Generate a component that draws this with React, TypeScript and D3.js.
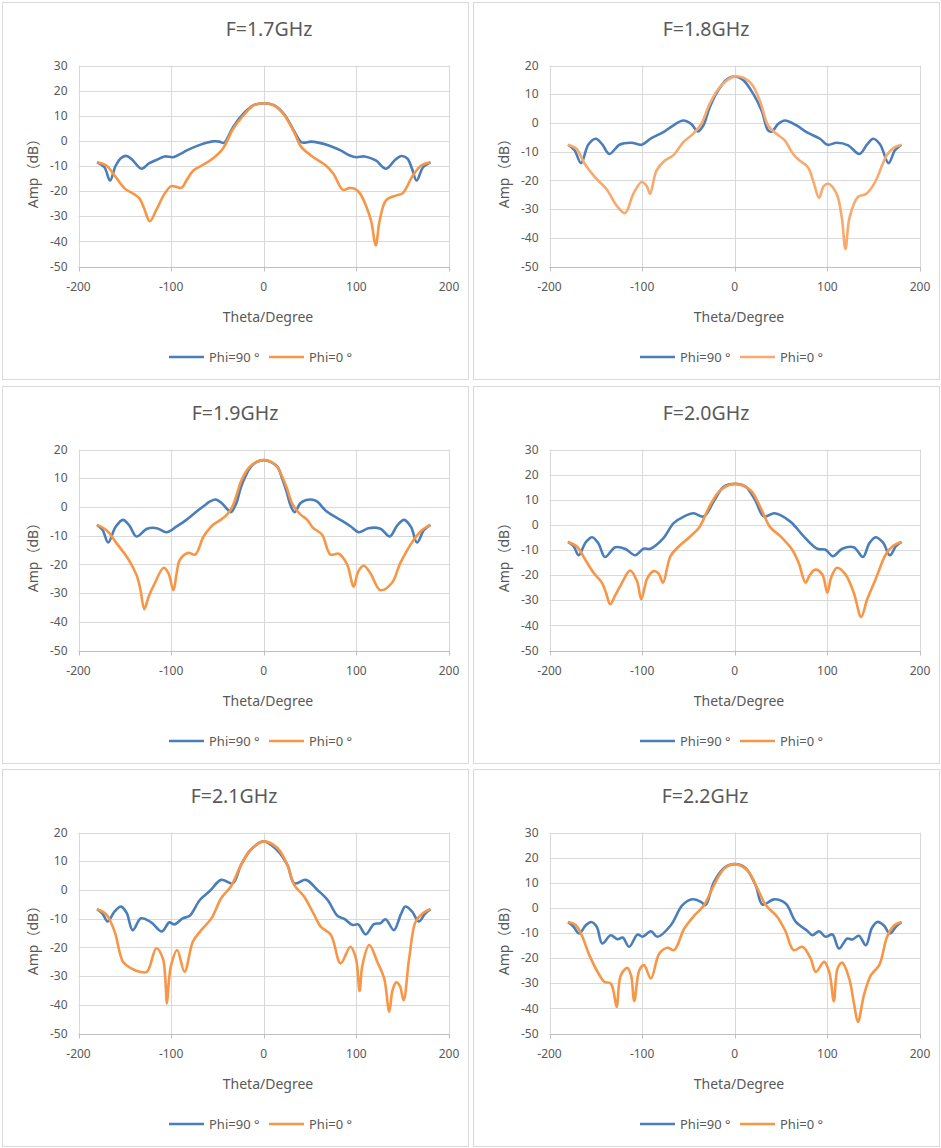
import React, { useRef, useEffect } from 'react';
import * as d3 from 'd3';

type Pt = [number, number];

// panel titles and y-axis ranges
const titles = ['F=1.7GHz', 'F=1.8GHz', 'F=1.9GHz', 'F=2.0GHz', 'F=2.1GHz', 'F=2.2GHz'];
const yMax = [30, 20, 20, 30, 20, 30];
const yMin = -50;
const xTicks = [-200, -100, 0, 100, 200];
const legendLabels = ['Phi=90 °', 'Phi=0 °'];

// theta (deg) / amplitude (dB)
const phi90_17: Pt[] = [[-180,-8.5],[-172,-10.5],[-166,-15.8],[-160,-10],[-154,-6.8],[-148,-6],[-142,-7.5],[-132,-11.1],[-124,-9],[-116,-7.6],[-107,-6.2],[-98,-6.5],[-90,-5.2],[-83,-3.8],[-69,-1.6],[-55,-0.2],[-48,-0.3],[-43,-0.8],[-38,2],[-33,5.5],[-22,10.8],[-11,14.2],[0,15],[11,14.2],[22,10.6],[33,3.8],[41,-0.6],[51,-0.3],[60,-0.8],[71,-1.9],[83,-3.8],[93,-5.8],[100,-6.5],[109,-6.2],[121,-7.8],[132,-11.1],[142,-7.5],[148.5,-6],[155,-7],[160,-11],[165,-15.8],[172,-10.5],[180,-8.5]];
const phi0_17: Pt[] = [[-180,-8.5],[-170,-9.8],[-161,-13.8],[-150,-19],[-140,-21.2],[-134,-23],[-129,-27],[-123,-32],[-116,-27.5],[-107,-21],[-100,-18],[-94,-18.3],[-89,-18.7],[-83,-15.5],[-76,-11.8],[-65,-9.4],[-55,-7],[-44,-3],[-33,4.8],[-22,10.1],[-11,14.1],[0,15],[11,14.1],[22,10.3],[33,3.3],[40,-2.2],[51,-5.8],[67,-9.8],[75,-13],[85.5,-19.5],[92,-18.8],[98,-19],[104,-21],[111,-26.4],[116,-32],[121,-41.6],[125,-32],[132,-23.7],[143,-21.7],[150,-20.8],[161,-13.8],[170,-9.8],[180,-8.5]];

const phi90_18: Pt[] = [[-180,-7.6],[-173,-9.5],[-166,-14],[-158,-7.5],[-150,-5.5],[-143,-7.5],[-135.5,-10.8],[-124,-7.5],[-111.5,-6.9],[-100.5,-7.6],[-90,-5.3],[-77,-3.2],[-66.5,-0.9],[-55.5,0.85],[-46.5,-0.5],[-40,-3],[-34,-0.9],[-27,5.5],[-18,11.3],[-9,15],[0,16.2],[9,15],[20,10.1],[29,4.3],[36,-2.6],[40,-3],[47,-0.3],[54,0.85],[67,-0.9],[77.5,-3.2],[92,-5.5],[100,-7.6],[110,-6.9],[122.5,-7.8],[134.5,-10.8],[143,-7.5],[149.5,-5.5],[157,-7.5],[166,-14],[173,-9.5],[180,-7.6]];
const phi0_18: Pt[] = [[-180,-7.6],[-171,-9],[-162,-14.2],[-151,-18.9],[-138.5,-23],[-127.5,-28.8],[-118.5,-31.4],[-109.5,-24.7],[-100.5,-20.6],[-95,-22],[-91.5,-24.7],[-84.5,-16.6],[-75.5,-13.1],[-66.5,-11.3],[-55.5,-6.7],[-45,-3.8],[-36,-0.3],[-27,6.7],[-16,12.5],[0,16.2],[16.5,14.2],[27,7.8],[36,-0.9],[45,-3.8],[54,-6.1],[63,-10.8],[70,-13.1],[79,-15.4],[84.5,-20],[91,-26.1],[96,-22],[101,-21.2],[110,-24.7],[115.5,-32.8],[119.5,-43.9],[124,-32.8],[133,-25.8],[142,-24.7],[151.5,-20.6],[164,-11.3],[172,-8.6],[180,-7.6]];

const phi90_19: Pt[] = [[-180,-6.25],[-174,-8],[-168,-12.4],[-160,-7],[-152,-4.5],[-145,-6.5],[-137.5,-10.3],[-126,-7.6],[-115.5,-7.4],[-105,-8.8],[-94,-6.8],[-83.5,-4.5],[-70.5,-1.1],[-64,0.5],[-58,1.9],[-52,2.6],[-45,1.2],[-40,-0.6],[-35.5,-1.8],[-30,1],[-25,6.5],[-20,10.5],[-15,13.5],[-8,15.6],[0,16.3],[8,15.6],[15,13.8],[20,9.8],[25,5],[29,0.5],[33.3,-1.8],[39.5,1.3],[45,2.3],[50.5,2.6],[57,2],[68,-1.6],[86,-5.1],[94,-6.8],[102.5,-8.8],[113,-7.4],[126,-7.6],[136,-10.3],[144,-6.5],[151.5,-4.5],[159,-7],[165.5,-12.4],[173,-8],[180,-6.25]];
const phi0_19: Pt[] = [[-180,-6.25],[-170,-8],[-159,-12.6],[-146,-18.3],[-137,-24],[-133,-29],[-129,-35.6],[-124,-31],[-119,-27.5],[-108,-21.2],[-103,-23],[-97.5,-29],[-94,-23],[-90.5,-18.4],[-81.5,-16],[-74,-16.6],[-65,-10.3],[-58,-7.3],[-54,-6],[-47,-4.6],[-40,-2.8],[-34,0],[-29,4.5],[-25,8.5],[-20,11.8],[-15,14],[-8,15.7],[0,16.3],[8,15.7],[15,13.8],[20,10.5],[25,6.5],[31,1],[39.5,-2.6],[47,-4.5],[53,-7.2],[63,-9.7],[72,-16.6],[81,-16.3],[90,-20],[97,-27.8],[102,-22.5],[108,-20.5],[115,-23],[126,-29],[138.5,-26.4],[147.5,-19.5],[162,-11.4],[171,-8],[180,-6.25]];

const phi90_20: Pt[] = [[-180,-6.8],[-174,-8.5],[-168.5,-12.1],[-161,-7],[-154,-4.9],[-147,-7.5],[-140,-12.8],[-129,-8.9],[-118,-9.6],[-107.5,-12.1],[-98.5,-9.5],[-91,-9.5],[-77,-5.3],[-66,0.7],[-55,3.3],[-44.5,4.6],[-33.5,3.3],[-22.5,9.5],[-12,15.1],[0,16.3],[12,15.1],[22.5,9.5],[31.5,3.3],[43,4.6],[60,1.3],[74.5,-4.6],[89,-9.5],[98,-9.9],[106,-12.5],[116,-9.5],[128.5,-8.9],[138.5,-12.8],[145,-7.5],[152,-4.9],[160,-7],[167.5,-12.1],[174,-8.5],[180,-6.8]];
const phi0_20: Pt[] = [[-180,-6.8],[-170.5,-8.6],[-161.5,-13.8],[-152.5,-19],[-143.5,-23],[-139,-27],[-134.5,-31.6],[-129,-28],[-123.5,-24.3],[-113,-18.2],[-105.5,-22.4],[-101,-29.6],[-97,-24.5],[-95,-21.7],[-87.5,-18.4],[-82,-19.5],[-77.5,-23],[-69.5,-12.5],[-60.5,-8.6],[-48,-4.6],[-38,-0.8],[-26.5,7.9],[-15.5,13.8],[0,16.3],[17,13.8],[27.5,7.2],[38,-0.8],[49.5,-4.6],[62,-9.9],[69,-15.1],[76.5,-23],[81,-20],[87,-17.8],[94.5,-19.7],[100,-27],[104,-21],[110.5,-17.1],[119.5,-19.7],[128.5,-27],[136.5,-36.6],[143,-29.6],[152,-21.7],[163,-11.8],[171,-8.3],[180,-6.8]];

const phi90_21: Pt[] = [[-180,-6.7],[-174,-8.3],[-168.5,-11],[-161,-7.5],[-154,-5.8],[-148,-8],[-141.5,-14],[-132.5,-9.9],[-121.5,-11.3],[-110,-14.5],[-102,-11.3],[-96.5,-12],[-87.5,-9.9],[-80,-9],[-69,-3.5],[-58,-0.3],[-46,3.5],[-33.5,2.3],[-24.5,8.7],[-14,14],[0,16.9],[14,14],[25.5,8.7],[33,2.3],[45.5,3.5],[58,0],[69,-3.5],[79.5,-9],[87,-10.1],[96,-12.2],[102,-12],[110,-15.5],[119,-11.9],[126,-11.6],[131.5,-10.2],[140.5,-14],[148,-8.5],[153,-5.8],[160,-7.5],[167.5,-11],[174,-8.3],[180,-6.7]];
const phi0_21: Pt[] = [[-180,-6.7],[-170,-8.5],[-161,-14.5],[-152,-25],[-143,-27.3],[-134,-28.5],[-126,-28.5],[-116,-20.3],[-109,-23.8],[-106.5,-30],[-104.5,-39.5],[-102.5,-32],[-100,-26.2],[-93.5,-20.9],[-85.5,-28.5],[-76.5,-18],[-67.5,-14],[-56.5,-9.9],[-46,-2.9],[-35.5,1.2],[-24.5,8.7],[-14,14],[0,16.9],[15,14.5],[25.5,8.7],[33,1.7],[43.5,-2.3],[54.5,-8.7],[61.5,-12.8],[72.5,-15.7],[83,-25.6],[93.5,-19.8],[99.5,-23.8],[103.5,-35.2],[106.5,-26.2],[114,-19.2],[122.5,-25],[130,-30.8],[135.5,-42.4],[139,-35],[143,-32.2],[147,-33.5],[151,-38.4],[157,-23.8],[164,-11],[172,-8],[180,-6.7]];

const phi90_22: Pt[] = [[-180,-5.6],[-174,-7.5],[-168,-10.2],[-161,-7],[-155,-5.6],[-149,-7.5],[-143,-14.2],[-134,-10.9],[-126.5,-12.5],[-121,-11.8],[-114,-15.5],[-105,-10.6],[-99.5,-11.5],[-90.5,-9.3],[-83.5,-11.5],[-69,-6.9],[-56.5,1.1],[-45.5,3.4],[-36.5,2.4],[-31.5,1.1],[-22.5,10.3],[-11.5,15.9],[0,17.4],[11.5,15.9],[22.5,9],[30,1.3],[42.5,3.4],[55,1.7],[66,-5.6],[78.5,-9.2],[84,-10.9],[91,-9.3],[98,-11.5],[105.5,-10.6],[112.5,-16.2],[121.5,-12.2],[127,-12.6],[134,-11.1],[141.5,-14.9],[148,-8],[154,-5.6],[161,-7],[167.5,-10.2],[174,-7.5],[180,-5.6]];
const phi0_22: Pt[] = [[-180,-5.6],[-171.5,-6.9],[-164.5,-11.5],[-157,-18.8],[-146,-26.8],[-141,-29.4],[-134,-30.1],[-131,-33],[-127.5,-39.4],[-123,-26.8],[-116,-23.9],[-112,-26.8],[-108.5,-37.1],[-103,-24.8],[-98,-22.8],[-90.5,-28.1],[-81.5,-18.2],[-72.5,-15.9],[-65.5,-16.8],[-54.5,-8.2],[-44,-3.2],[-33,1.1],[-22.5,9],[-11.5,15.6],[0,17.4],[13.5,15],[24.5,7.7],[33.5,1.1],[46,-3.6],[55,-9.5],[63.5,-16.8],[73,-15.5],[82,-20.2],[87.5,-25.5],[96.5,-21.5],[102,-25.5],[107,-37.1],[111,-24.1],[116,-21.8],[123.5,-28.1],[129,-38.7],[133,-45.4],[139.5,-34.7],[147,-26.8],[156,-22.8],[164.5,-11.5],[172,-7],[180,-5.6]];

const phi90Series = [phi90_17, phi90_18, phi90_19, phi90_20, phi90_21, phi90_22];
const phi0Series = [phi0_17, phi0_18, phi0_19, phi0_20, phi0_21, phi0_22];

const BLUE = '#4A7EBB';
const ORANGE = '#F79646';
const ORANGE_LIGHT = '#F8AA6E';
const TEXT = '#595959';
const FONT = "'Noto Sans', 'Noto Sans CJK SC', sans-serif";

const App: React.FC = () => {
  const svgRef = useRef<SVGSVGElement>(null);

  useEffect(() => {
    const svg = d3.select(svgRef.current);
    svg.selectAll('*').remove();

    const panelW = 466, panelH = 377;
    const colX = [2, 473];
    const rowY = [2, 386, 769];
    const plot = { left: 76.5, right: 447, top: 63.5, bottom: 264.5 };
    const titleX = [267, 233, 233, 233, 232, 232];

    titles.forEach((title, i) => {
      const g = svg.append('g')
        .attr('transform', `translate(${colX[i % 2]},${rowY[Math.floor(i / 2)]})`);

      g.append('rect')
        .attr('x', 0.5).attr('y', 0.5)
        .attr('width', panelW).attr('height', panelH)
        .attr('fill', 'white')
        .attr('stroke', '#d9d9d9');

      const x = d3.scaleLinear().domain([-200, 200]).range([plot.left, plot.right]);
      const y = d3.scaleLinear().domain([yMin, yMax[i]]).range([plot.bottom, plot.top]);
      const yTicks = d3.range(yMin, yMax[i] + 1, 10);

      // grid
      g.append('g').selectAll('line')
        .data(yTicks.slice(1))
        .enter().append('line')
        .attr('x1', plot.left).attr('x2', plot.right)
        .attr('y1', d => Math.round(y(d)) + 0.5).attr('y2', d => Math.round(y(d)) + 0.5)
        .attr('stroke', '#d9d9d9');

      g.append('g').selectAll('line')
        .data(xTicks)
        .enter().append('line')
        .attr('x1', d => Math.round(x(d)) + 0.5).attr('x2', d => Math.round(x(d)) + 0.5)
        .attr('y1', plot.top).attr('y2', plot.bottom)
        .attr('stroke', '#d9d9d9');

      // bottom axis line with ticks
      g.append('line')
        .attr('x1', plot.left).attr('x2', plot.right + 1)
        .attr('y1', Math.round(y(yMin)) + 0.5).attr('y2', Math.round(y(yMin)) + 0.5)
        .attr('stroke', '#bfbfbf');
      g.append('g').selectAll('line')
        .data(xTicks)
        .enter().append('line')
        .attr('x1', d => Math.round(x(d)) + 0.5).attr('x2', d => Math.round(x(d)) + 0.5)
        .attr('y1', plot.bottom).attr('y2', plot.bottom + 5)
        .attr('stroke', '#bfbfbf');

      // tick labels
      g.append('g').selectAll('text')
        .data(yTicks)
        .enter().append('text')
        .attr('x', plot.left - 11)
        .attr('y', d => y(d))
        .attr('dy', '0.35em')
        .attr('text-anchor', 'end')
        .style('font-family', FONT)
        .style('font-size', '12px')
        .style('fill', TEXT)
        .text(d => d);

      g.append('g').selectAll('text')
        .data(xTicks)
        .enter().append('text')
        .attr('x', d => x(d))
        .attr('y', plot.bottom + 24)
        .attr('text-anchor', 'middle')
        .style('font-family', FONT)
        .style('font-size', '12px')
        .style('fill', TEXT)
        .text(d => d);

      // series, smoothed like the spreadsheet's curves
      const line = d3.line<Pt>()
        .x(d => x(d[0]))
        .y(d => y(d[1]))
        .curve(d3.curveCatmullRom.alpha(0.5));

      const orange = i === 1 ? ORANGE_LIGHT : ORANGE;

      g.append('path')
        .datum(phi90Series[i])
        .attr('fill', 'none')
        .attr('stroke', BLUE)
        .attr('stroke-width', 2.6)
        .attr('stroke-linejoin', 'round')
        .attr('d', line);

      g.append('path')
        .datum(phi0Series[i])
        .attr('fill', 'none')
        .attr('stroke', orange)
        .attr('stroke-width', 2.6)
        .attr('stroke-linejoin', 'round')
        .attr('d', line);

      // titles
      g.append('text')
        .attr('x', titleX[i])
        .attr('y', 33.5)
        .attr('text-anchor', 'middle')
        .style('font-family', FONT)
        .style('font-size', '19.5px')
        .style('fill', TEXT)
        .text(title);

      g.append('text')
        .attr('x', 266)
        .attr('y', 320)
        .attr('text-anchor', 'middle')
        .style('font-family', FONT)
        .style('font-size', '14px')
        .style('fill', TEXT)
        .text('Theta/Degree');

      g.append('text')
        .attr('transform', 'translate(36,168) rotate(-90)')
        .attr('text-anchor', 'middle')
        .style('font-family', FONT)
        .style('font-size', '14px')
        .style('fill', TEXT)
        .text('Amp（dB）');

      // legend
      const legend = g.append('g').attr('transform', 'translate(0,355)');
      const colors = [BLUE, orange];
      const starts = [167, 267];
      legendLabels.forEach((lab, k) => {
        legend.append('line')
          .attr('x1', starts[k]).attr('x2', starts[k] + 35)
          .attr('y1', 0).attr('y2', 0)
          .attr('stroke', colors[k])
          .attr('stroke-width', 2.6);
        legend.append('text')
          .attr('x', starts[k] + 40)
          .attr('y', 0)
          .attr('dy', '0.35em')
          .style('font-family', FONT)
          .style('font-size', '13px')
          .style('fill', TEXT)
          .text(lab);
      });
    });
  }, []);

  return (
    <svg
      ref={svgRef}
      width={941}
      height={1148}
      style={{ position: 'absolute', left: 0, top: 0, background: 'white' }}
    />
  );
};

export default App;
